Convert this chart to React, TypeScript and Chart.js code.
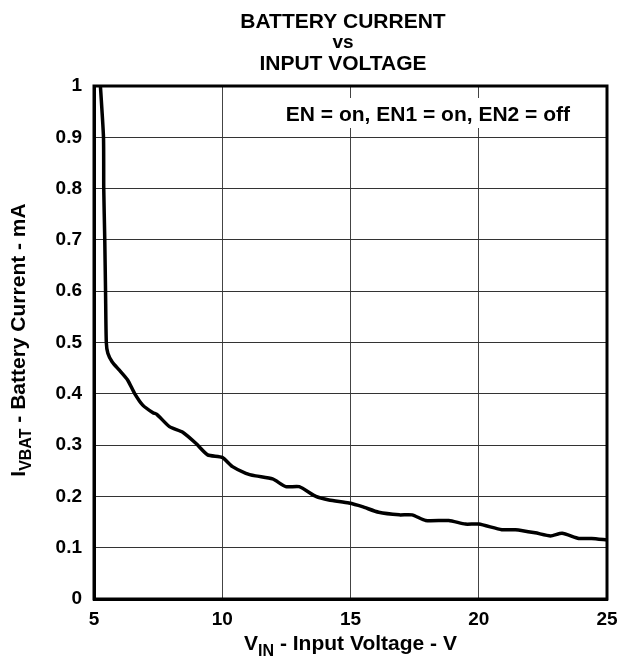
import React, { useEffect, useRef } from "react";
import { Chart, registerables } from "chart.js";

Chart.register(...registerables);

const vin = [5.25, 5.37, 5.38, 5.42, 5.45, 5.48, 5.54, 5.71, 5.99, 6.31, 6.58, 6.9, 7.3, 7.45, 7.94, 8.46, 8.98, 9.43, 10.0, 10.4, 10.92, 11.3, 11.96, 12.48, 13.0, 13.65, 14.16, 14.94, 15.46, 16.1, 16.9, 17.4, 17.93, 18.83, 19.48, 20.0, 20.9, 21.43, 22.2, 22.8, 23.25, 23.9, 24.4, 25.0];
const ivbat = [1.0, 0.9, 0.8, 0.7, 0.6, 0.5, 0.479, 0.462, 0.446, 0.427, 0.401, 0.378, 0.363, 0.36, 0.336, 0.325, 0.303, 0.281, 0.276, 0.258, 0.245, 0.24, 0.234, 0.219, 0.219, 0.2, 0.193, 0.187, 0.18, 0.169, 0.164, 0.164, 0.153, 0.153, 0.146, 0.146, 0.135, 0.135, 0.129, 0.123, 0.128, 0.118, 0.118, 0.115];

const titleLines = ["BATTERY CURRENT", "vs", "INPUT VOLTAGE"];
const annotation = "EN = on, EN1 = on, EN2 = off";
const xGridValues = [10, 15, 20];

const FONT = "'Liberation Sans', Arial, sans-serif";

const overlay = {
  id: "overlay",
  afterDraw(chart: any) {
    const { ctx, chartArea } = chart;
    const { left, right, top, bottom } = chartArea;
    ctx.save();
    ctx.strokeStyle = "#000";
    ctx.lineWidth = 3;
    ctx.strokeRect(left, top, right - left, bottom - top);
    const cx = (left + right) / 2;
    ctx.fillStyle = "#000";
    ctx.textAlign = "center";
    ctx.textBaseline = "alphabetic";
    const tx = 343;
    ctx.font = `bold 21px ${FONT}`;
    ctx.fillText(titleLines[0], tx, 28);
    ctx.font = `bold 19px ${FONT}`;
    ctx.fillText(titleLines[1], tx, 48);
    ctx.font = `bold 21px ${FONT}`;
    ctx.fillText(titleLines[2], tx, 70);

    const drawSub = (parts: [string, boolean][], x: number, y: number) => {
      let w = 0;
      for (const [t, sub] of parts) {
        ctx.font = sub ? `bold 16px ${FONT}` : `bold 21px ${FONT}`;
        w += ctx.measureText(t).width;
      }
      let px = x - w / 2;
      ctx.textAlign = "left";
      for (const [t, sub] of parts) {
        ctx.font = sub ? `bold 16px ${FONT}` : `bold 21px ${FONT}`;
        ctx.fillText(t, px, sub ? y + 6 : y);
        px += ctx.measureText(t).width;
      }
    };
    drawSub([["V", false], ["IN", true], [" - Input Voltage - V", false]], cx, 650);
    ctx.save();
    ctx.translate(25, 340);
    ctx.rotate(-Math.PI / 2);
    drawSub([["I", false], ["VBAT", true], [" - Battery Current - mA", false]], 0, 0);
    ctx.restore();
    ctx.restore();
  },
  beforeDatasetsDraw(chart: any) {
    const { ctx } = chart;
    ctx.save();
    ctx.font = `bold 21px ${FONT}`;
    const w = ctx.measureText(annotation).width;
    const xr = 570;
    ctx.fillStyle = "#fff";
    ctx.fillRect(xr - w - 8, 98, w + 16, 30);
    ctx.fillStyle = "#000";
    ctx.textAlign = "right";
    ctx.textBaseline = "alphabetic";
    ctx.fillText(annotation, xr, 121);
    ctx.restore();
  },
};

export default function App() {
  const ref = useRef<HTMLCanvasElement | null>(null);
  useEffect(() => {
    if (!ref.current) return;
    const chart = new Chart(ref.current, {
      type: "line",
      data: {
        datasets: [
          {
            data: vin.map((x, i) => ({ x, y: ivbat[i] })),
            borderColor: "#000",
            borderWidth: 3.5,
            pointRadius: 0,
            tension: 0.2,
            fill: false,
          },
        ],
      },
      options: {
        animation: false,
        responsive: false,
        devicePixelRatio: 1,
        layout: { padding: { left: 0, top: 86, right: 13, bottom: 0 } },
        plugins: { legend: { display: false }, tooltip: { enabled: false }, title: { display: false } },
        scales: {
          x: {
            type: "linear",
            min: 5,
            max: 25,
            afterFit: (s: any) => { s.height = 59; s.paddingLeft = 0; s.paddingRight = 0; },
            ticks: {
              stepSize: 5,
              padding: 9,
              color: "#000",
              font: { family: FONT, size: 19, weight: "bold" },
            },
            grid: {
              drawTicks: false,
              color: (c: any) => (xGridValues.includes(c.tick?.value) ? "#444" : "rgba(0,0,0,0)"),
              lineWidth: 1,
            },
            border: { display: true, color: "#000", width: 3 },
          },
          y: {
            min: 0,
            max: 1,
            afterFit: (s: any) => { s.width = 94; s.paddingTop = 0; s.paddingBottom = 0; },
            ticks: {
              stepSize: 0.1,
              padding: 12,
              color: "#000",
              font: { family: FONT, size: 19, weight: "bold" },
              callback: (v: any) => String(Math.round(Number(v) * 10) / 10),
            },
            grid: { drawTicks: false, color: "#333", lineWidth: 1 },
            border: { display: true, color: "#000", width: 3 },
          },
        },
      },
      plugins: [overlay],
    });
    return () => chart.destroy();
  }, []);
  return (
    <div style={{ position: "fixed", left: 0, top: 0, width: 620, height: 658, background: "#fff" }}>
      <canvas ref={ref} width={620} height={658} style={{ width: 620, height: 658 }} />
    </div>
  );
}
